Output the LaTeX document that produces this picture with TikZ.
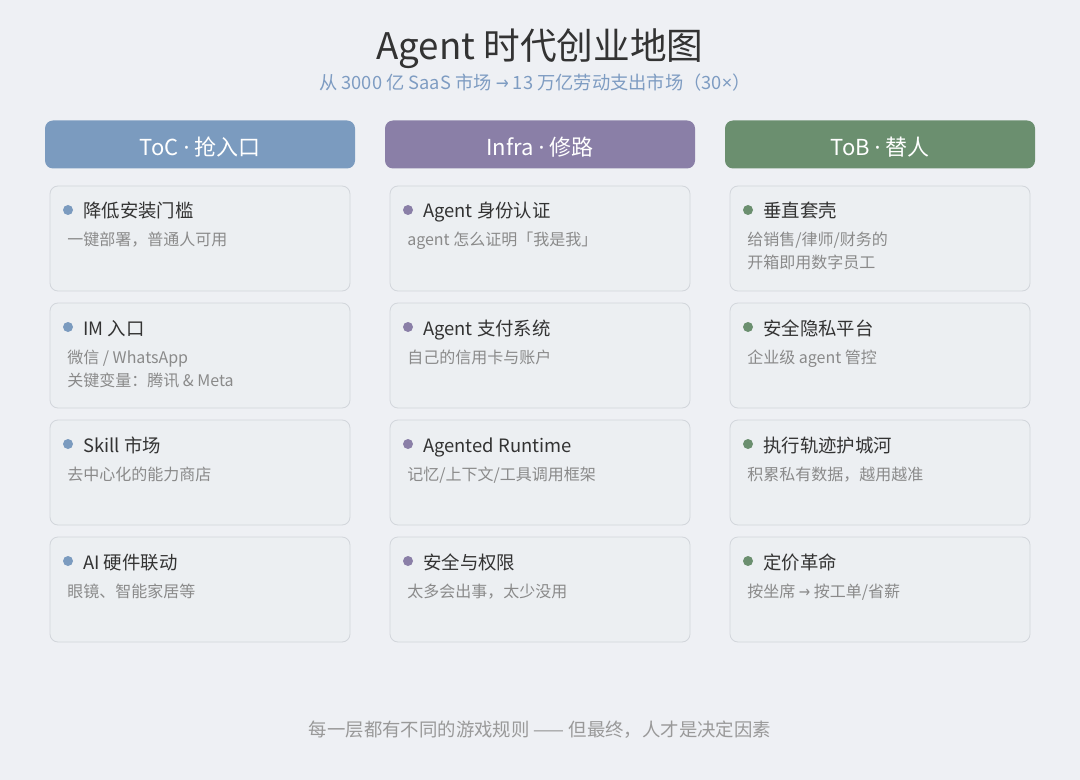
\documentclass[tikz,border=0pt]{standalone}
\usepackage{fontspec}
\setmainfont{Noto Sans CJK SC}
\newfontfamily\latinfont{Noto Sans}
\newfontfamily\symfont{DejaVu Sans}
\definecolor{bgc}{HTML}{EEF0F4}
\definecolor{cardfill}{HTML}{ECEFF2}
\definecolor{cardline}{HTML}{D2D6DB}
\definecolor{cblue}{HTML}{7B9BBF}
\definecolor{cpurple}{HTML}{8A7FA7}
\definecolor{cgreen}{HTML}{6B8F6F}
\definecolor{ttl}{HTML}{333333}
\definecolor{subc}{HTML}{7E9CC2}
\definecolor{grayt}{HTML}{8A8A8A}
\definecolor{foot}{HTML}{999999}
\tikzset{
  header/.style={fill=#1, rounded corners=6pt, minimum width=232.5pt, minimum height=36pt, inner sep=0pt},
  headtext/.style={text=white, font=\fontsize{16.5}{19}\selectfont, inner sep=0pt, anchor=base},
  card/.style={fill=cardfill, draw=cardline, line width=0.6pt, rounded corners=6pt, minimum width=225pt, minimum height=78.75pt, inner sep=0pt},
  dot/.style={circle, fill=#1, minimum size=7.5pt, inner sep=0pt},
  ctitle/.style={text=ttl, font=\fontsize{13.8}{16}\selectfont, inner sep=0pt, anchor=base west},
  csub/.style={text=grayt, font=\fontsize{12}{14}\selectfont, inner sep=0pt, anchor=base west},
}
\newcommand{\md}{ {\latinfont ·} }
\newcommand{\arr}{{\symfont\scalebox{0.85}[1]{→}}}
\newcommand{\mkcard}[6]{%
  \node[card] (#1) at (#2+200,#3+52.5) {};
  \node[dot=#4] (#1d) at (#2+68,#3+24) {};
  \node[ctitle] (#1t) at (#2+83,#3+32) {#5};
  \node[csub] (#1s) at (#2+67,#3+60) {#6};
}
\begin{document}
\begin{tikzpicture}[x=0.75pt,y=-0.75pt]
\fill[bgc] (0,0) rectangle (1080,780);
\useasboundingbox (0,0) rectangle (1080,780);

\node[text=ttl, font=\fontsize{27.5}{32}\selectfont, inner sep=0pt, anchor=base] (title) at (540,60) {Agent 时代创业地图};
\node[text=subc, font=\fontsize{13.7}{16}\selectfont, inner sep=0pt, anchor=base] (subtitle) at (535,90) {从 3000 亿 SaaS 市场 \arr{} 13 万亿劳动支出市场（30{\latinfont ×}）};

% headers
\node[header=cblue] (h1) at (200,144.5) {};
\node[headtext] (h1t) at (200,156) {ToC\md 抢入口};
\node[header=cpurple] (h2) at (540,144.5) {};
\node[headtext] (h2t) at (540,156) {Infra\md 修路};
\node[header=cgreen] (h3) at (880,144.5) {};
\node[headtext] (h3t) at (880,156) {ToB\md 替人};

% column 1
\mkcard{a1}{0}{186}{cblue}{降低安装门槛}{一键部署，普通人可用}
\mkcard{a2}{0}{303}{cblue}{IM 入口}{微信 / WhatsApp}
\node[csub] (a2s2) at (67,386) {关键变量：腾讯 \& Meta};
\mkcard{a3}{0}{420}{cblue}{Skill 市场}{去中心化的能力商店}
\mkcard{a4}{0}{537}{cblue}{AI 硬件联动}{眼镜、智能家居等}

% column 2
\mkcard{b1}{340}{186}{cpurple}{Agent 身份认证}{agent 怎么证明「我是我」}
\mkcard{b2}{340}{303}{cpurple}{Agent 支付系统}{自己的信用卡与账户}
\mkcard{b3}{340}{420}{cpurple}{Agented Runtime}{记忆/上下文/工具调用框架}
\mkcard{b4}{340}{537}{cpurple}{安全与权限}{太多会出事，太少没用}

% column 3
\mkcard{c1}{680}{186}{cgreen}{垂直套壳}{给销售/律师/财务的}
\node[csub] (c1s2) at (747,269) {开箱即用数字员工};
\mkcard{c2}{680}{303}{cgreen}{安全隐私平台}{企业级 agent 管控}
\mkcard{c3}{680}{420}{cgreen}{执行轨迹护城河}{积累私有数据，越用越准}
\mkcard{c4}{680}{537}{cgreen}{定价革命}{按坐席 \arr{} 按工单/省薪}

\node[text=foot, font=\fontsize{13.8}{16}\selectfont, inner sep=0pt, anchor=base] (footer) at (540,736) {每一层都有不同的游戏规则 —— 但最终，人才是决定因素};
\end{tikzpicture}
\end{document}
